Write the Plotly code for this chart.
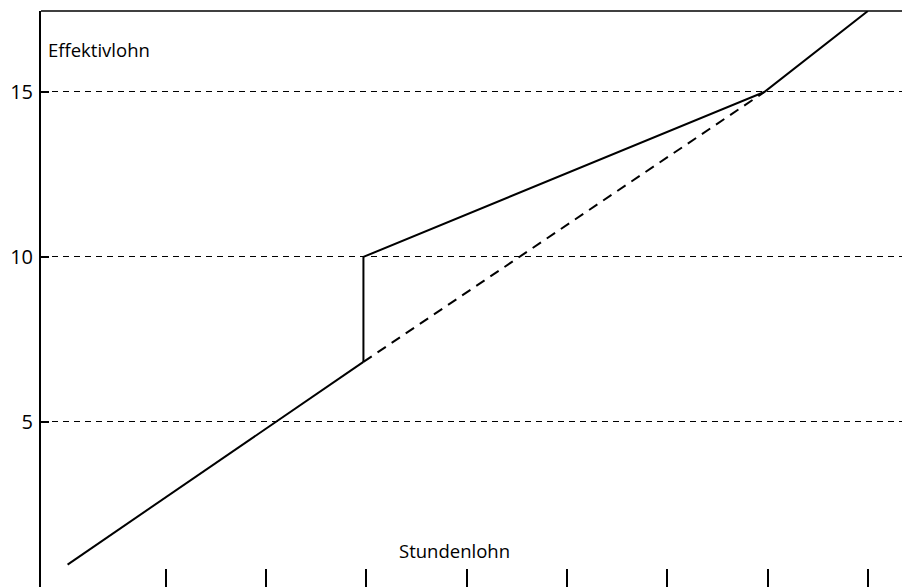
import plotly.graph_objects as go

# Data (x: Stundenlohn in tick units, y: Effektivlohn)
lower_x = [0.02, 2.97]
lower_y = [0.68, 6.82]
dashed_x = [2.97, 6.97]
dashed_y = [6.82, 15.0]
upper_x = [2.97, 2.97, 6.97, 8.0]
upper_y = [6.82, 10.0, 15.0, 17.45]
x_ticks = [1, 2, 3, 4, 5, 6, 7, 8]
y_ticks = [5, 10, 15]
y_ticklabels = ["5", "10", "15"]

FONT = "Open Sans"

fig = go.Figure()
fig.add_trace(go.Scatter(x=lower_x, y=lower_y, mode="lines",
                         line=dict(color="black", width=2), showlegend=False))
fig.add_trace(go.Scatter(x=dashed_x, y=dashed_y, mode="lines",
                         line=dict(color="black", width=2, dash="10px,7px"), showlegend=False))
fig.add_trace(go.Scatter(x=upper_x, y=upper_y, mode="lines",
                         line=dict(color="black", width=2), showlegend=False))

fig.update_layout(
    width=902, height=579,
    margin=dict(l=33, r=0, t=3, b=0),
    paper_bgcolor="white", plot_bgcolor="white",
    font=dict(family=FONT, color="black", size=19),
    xaxis=dict(range=[-0.245, 8.42], showgrid=False, zeroline=False, showline=False,
               tickvals=x_ticks, showticklabels=False, ticks="inside", ticklen=18,
               tickwidth=1.5, tickcolor="black"),
    yaxis=dict(range=[0, 17.45], showgrid=True, gridcolor="black", gridwidth=1.4,
               griddash="6px,5px", zeroline=False, showline=True, linecolor="black",
               linewidth=2, tickvals=y_ticks, ticktext=y_ticklabels, ticks="inside",
               ticklen=8, tickwidth=1.5, tickcolor="black", ticklabelstandoff=2,
               tickfont=dict(size=20, family=FONT)),
    shapes=[dict(type="line", xref="paper", yref="paper", x0=0, x1=1, y0=1, y1=1,
                 line=dict(color="black", width=1.5))],
    annotations=[
        dict(text="Effektivlohn", x=-0.2, y=16.27, xref="x", yref="y",
             xanchor="left", yanchor="middle", showarrow=False,
             font=dict(size=18.5, family=FONT)),
        dict(text="Stundenlohn", x=3.88, y=1.12, xref="x", yref="y",
             xanchor="center", yanchor="middle", showarrow=False,
             font=dict(size=18.5, family=FONT)),
    ],
)

fig.write_html("out.html")
